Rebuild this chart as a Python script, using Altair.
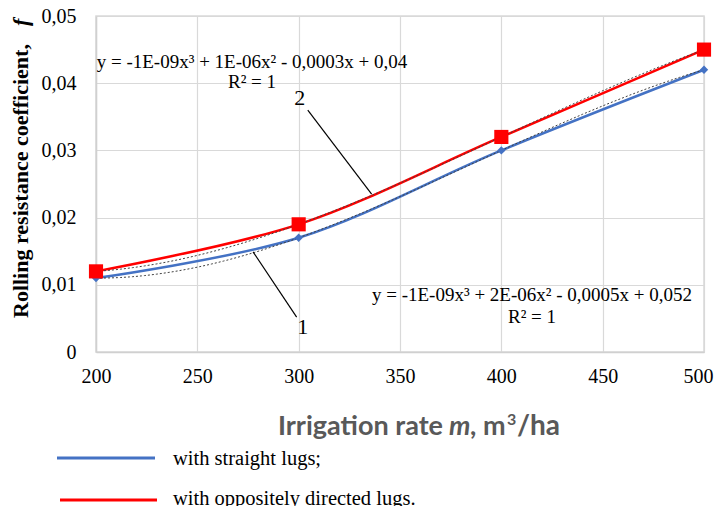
import altair as alt
import pandas as pd

# ---- data ----
m_values = [200, 300, 400, 500]
f_straight = [0.011, 0.017, 0.030, 0.042]
f_opposite = [0.012, 0.019, 0.032, 0.045]
series_names = ["with straight lugs;", "with oppositely directed lugs."]
series_colors = ["#4472C4", "#FF0000"]
x_ticks = [200, 250, 300, 350, 400, 450, 500]
y_ticks = [0, 0.01, 0.02, 0.03, 0.04, 0.05]

eq_top = "y = -1E-09x³ + 1E-06x² - 0,0003x + 0,04"
eq_bottom = "y = -1E-09x³ + 2E-06x² - 0,0005x + 0,052"

rows = []
for m, f in zip(m_values, f_straight):
    rows.append({"m": m, "f": f, "series": series_names[0]})
for m, f in zip(m_values, f_opposite):
    rows.append({"m": m, "f": f, "series": series_names[1]})
df = pd.DataFrame(rows)

SERIF = "Liberation Serif"
SANS = "Lato"

xs = alt.Scale(domain=[200, 500], nice=False, zero=False)
ys = alt.Scale(domain=[0, 0.05], nice=False)
cs = alt.Scale(domain=series_names, range=series_colors)

x_enc = alt.X("m:Q", scale=xs, axis=alt.Axis(
    values=x_ticks, title=None, labelPadding=14, labelFlush=False,
    labelAlign={"condition": {"test": "datum.value == 500", "value": "right"}, "value": "center"},
    labelOffset={"condition": {"test": "datum.value == 500", "value": 9}, "value": 0},
))
y_enc = alt.Y("f:Q", scale=ys, axis=alt.Axis(
    values=y_ticks, title=None, labelPadding=20, labelFlush=False,
    labelExpr="datum.value == 0 ? '0' : replace(format(datum.value, '.2f'), '.', ',')"))

base = alt.Chart(df)

lines = base.mark_line(strokeWidth=2.5, interpolate="catmull-rom").encode(
    x=x_enc, y=y_enc, color=alt.Color("series:N", scale=cs, legend=None)
)

blue_pts = base.transform_filter(alt.datum.series == series_names[0]).mark_point(
    shape="diamond", filled=True, size=70, color=series_colors[0], opacity=1
).encode(x="m:Q", y="f:Q")

red_pts = base.transform_filter(alt.datum.series == series_names[1]).mark_point(
    shape="square", filled=True, size=200, color=series_colors[1], opacity=1
).encode(x="m:Q", y="f:Q")

trend = base.transform_regression(
    "m", "f", method="poly", order=3, groupby=["series"]
).mark_line(color="#404040", strokeWidth=1, strokeDash=[2, 2]).encode(
    x="m:Q", y="f:Q", detail="series:N"
)

# ---- annotations (leader lines and numbers, in data units) ----
leader = pd.DataFrame({
    "m": [304.5, 277.5], "f": [0.0360, 0.0149],
    "m2": [336.0, 299.0], "f2": [0.0235, 0.0052],
})
leaders = alt.Chart(leader).mark_rule(color="black", strokeWidth=1.2).encode(
    x="m:Q", y="f:Q", x2="m2:Q", y2="f2:Q"
)
num_df = pd.DataFrame({"m": [300.5, 302.0], "f": [0.0378, 0.0037], "t": ["2", "1"]})
nums = alt.Chart(num_df).mark_text(font=SERIF, fontSize=22, color="black").encode(
    x="m:Q", y="f:Q", text="t:N"
)

one = pd.DataFrame({"k": [0]})


def ptext(txt, x, y, size, font=SERIF, align="center", weight="normal",
          style="normal", color="black", angle=0, baseline="middle"):
    return alt.Chart(one).mark_text(
        text=txt, font=font, fontSize=size, align=align, baseline=baseline,
        fontWeight=weight, fontStyle=style, color=color, angle=angle
    ).encode(x=alt.value(x), y=alt.value(y))


GREY = "#595959"
texts = [
    ptext(eq_top, 156, 46, 19),
    ptext("R² = 1", 156, 66, 19),
    ptext(eq_bottom, 436, 279, 19),
    ptext("R² = 1", 436, 301, 19),
    # x title
    ptext("Irrigation rate", 347, 419, 27, font=SANS, align="right", weight="bold",
          color=GREY, baseline="alphabetic"),
    ptext("m", 353, 419, 27, font=SANS, align="left", weight="bold", style="italic",
          color=GREY, baseline="alphabetic"),
    ptext(", m", 374, 419, 27, font=SANS, align="left", weight="bold",
          color=GREY, baseline="alphabetic"),
    ptext("3", 411, 409, 16, font=SANS, align="left", weight="bold",
          color=GREY, baseline="alphabetic"),
    ptext("/ha", 421, 419, 28, font=SANS, align="left", weight="bold",
          color=GREY, baseline="alphabetic"),
    # y title
    ptext("Rolling resistance coefficient,", -75, 302, 22, align="left", weight="bold", angle=270),
    ptext("f", -75, 10, 22, align="left", weight="bold", style="italic", angle=270),
    # legend labels
    ptext(series_names[0], 77, 449, 20.5, align="left", baseline="alphabetic"),
    ptext(series_names[1], 77, 489, 20.5, align="left", baseline="alphabetic"),
]

legend_lines = [
    alt.Chart(one).mark_rule(color=series_colors[0], strokeWidth=3).encode(
        x=alt.value(-39), x2=alt.value(59), y=alt.value(442)),
    alt.Chart(one).mark_rule(color=series_colors[1], strokeWidth=3).encode(
        x=alt.value(-36), x2=alt.value(61), y=alt.value(484)),
]

chart = alt.layer(
    lines, trend, blue_pts, red_pts, leaders, nums, *texts, *legend_lines
).properties(
    width=608, height=336,
    autosize=alt.AutoSizeParams(type="none"),
    padding={"left": 88, "top": 8, "right": 10, "bottom": 154},
).configure_view(
    stroke="#d9d9d9", strokeWidth=1.5
).configure_axis(
    labelFont=SERIF, labelFontSize=20, labelColor="black",
    ticks=False, domainColor="#d0d0d0", domainWidth=1.5,
    gridColor="#d9d9d9", gridWidth=1.2,
)

chart.save("out.html", embed_options={"renderer": "svg", "actions": False})
